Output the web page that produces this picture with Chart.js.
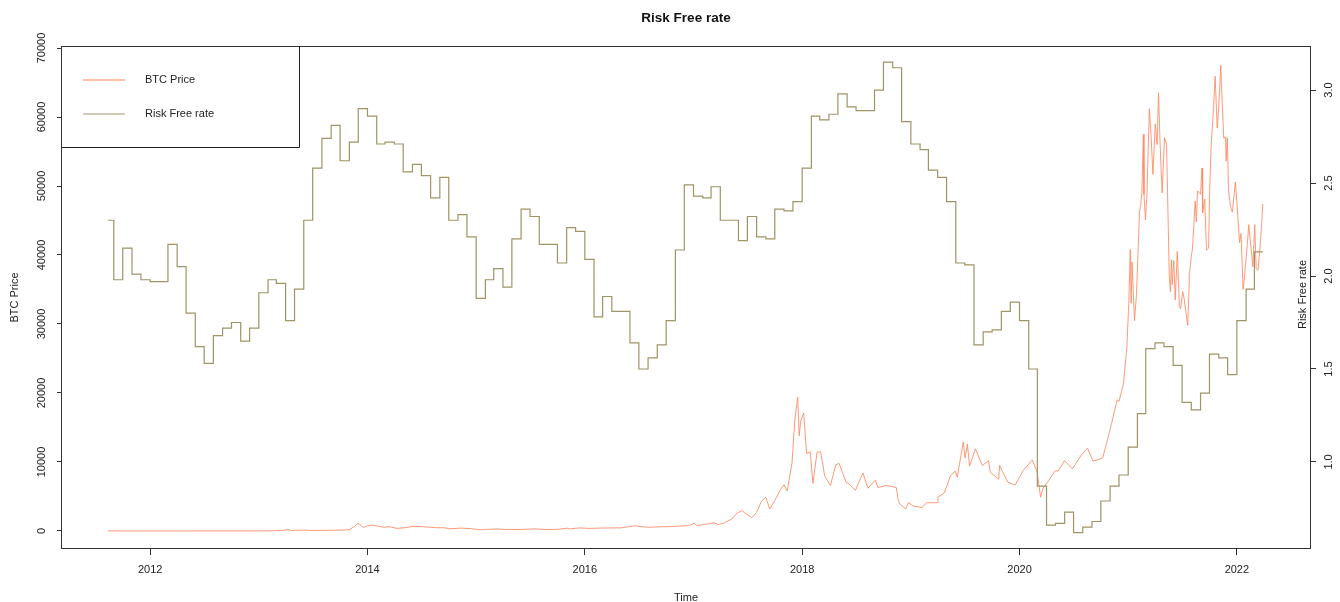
<!DOCTYPE html>
<html><head><meta charset="utf-8">
<script src="https://cdn.jsdelivr.net/npm/chart.js@4.4.1/dist/chart.umd.min.js"></script>
<style>html,body{margin:0;padding:0;background:#fff;}#wrap{width:1340px;height:602px;}</style>
</head><body><div id="wrap"><canvas id="c" width="1340" height="602"></canvas></div>
<script>
// ---- data ----
const btcDates = [
'2011-08-13','2011-10-15','2012-01-15','2012-04-15','2012-07-15','2012-09-15','2012-12-15','2013-02-15','2013-03-25','2013-04-09',
'2013-04-17','2013-06-01','2013-07-05','2013-08-15','2013-10-01','2013-11-01','2013-11-18','2013-11-30','2013-12-06','2013-12-18',
'2013-12-31','2014-01-15','2014-02-07','2014-02-25','2014-03-15','2014-04-10','2014-05-01','2014-06-03','2014-07-01','2014-08-18',
'2014-09-15','2014-10-05','2014-11-12','2014-12-15','2015-01-14','2015-02-01','2015-03-11','2015-04-15','2015-06-01','2015-07-12',
'2015-08-24','2015-10-01','2015-11-04','2015-11-11','2015-12-15','2016-01-15','2016-03-01','2016-05-01','2016-06-17','2016-08-02',
'2016-09-15','2016-10-15','2016-11-15','2016-12-15','2017-01-04','2017-01-12','2017-02-15','2017-03-10','2017-03-25','2017-04-15',
'2017-05-10','2017-05-25','2017-06-12','2017-07-16','2017-08-01','2017-08-17','2017-09-01','2017-09-14','2017-10-01','2017-10-20',
'2017-11-01','2017-11-12','2017-11-28','2017-12-07','2017-12-17','2017-12-22','2017-12-27','2018-01-06','2018-01-16','2018-01-28',
'2018-02-06','2018-02-20','2018-03-04','2018-03-18','2018-04-06','2018-04-24','2018-05-05','2018-05-28','2018-06-10','2018-06-29',
'2018-07-24','2018-08-10','2018-09-04','2018-09-12','2018-10-10','2018-11-13','2018-11-20','2018-11-25','2018-12-15','2018-12-24',
'2019-01-10','2019-02-07','2019-02-24','2019-03-30','2019-04-02','2019-04-23','2019-05-14','2019-05-30','2019-06-06','2019-06-26',
'2019-07-02','2019-07-10','2019-07-17','2019-08-06','2019-08-29','2019-09-19','2019-09-25','2019-10-23','2019-10-26','2019-11-22',
'2019-12-17','2020-01-14','2020-02-13','2020-02-29','2020-03-12','2020-03-20','2020-04-08','2020-04-30','2020-05-10','2020-06-01',
'2020-06-27','2020-07-27','2020-08-17','2020-09-05','2020-10-07','2020-10-21','2020-11-06','2020-11-25','2020-12-01','2020-12-16',
'2020-12-27','2021-01-03','2021-01-08','2021-01-11','2021-01-14','2021-01-22','2021-01-29','2021-02-08','2021-02-12','2021-02-16',
'2021-02-21','2021-02-23','2021-02-28','2021-03-05','2021-03-13','2021-03-18','2021-03-25','2021-04-02','2021-04-08','2021-04-13',
'2021-04-18','2021-04-25','2021-05-03','2021-05-10','2021-05-13','2021-05-19','2021-05-23','2021-05-26','2021-05-29','2021-06-03',
'2021-06-08','2021-06-15','2021-06-22','2021-06-26','2021-07-03','2021-07-07','2021-07-20','2021-07-26','2021-08-01','2021-08-05',
'2021-08-14','2021-08-18','2021-08-22','2021-09-01','2021-09-06','2021-09-08','2021-09-15','2021-09-21','2021-09-28','2021-10-01',
'2021-10-06','2021-10-15','2021-10-20','2021-10-27','2021-11-01','2021-11-08','2021-11-10','2021-11-18','2021-11-24','2021-11-26',
'2021-11-30','2021-12-04','2021-12-10','2021-12-13','2021-12-17','2021-12-27','2022-01-01','2022-01-10','2022-01-15','2022-01-22',
'2022-01-27','2022-02-05','2022-02-10','2022-02-14','2022-02-24','2022-03-02','2022-03-07','2022-03-13','2022-03-20','2022-03-25',
'2022-03-29'
];
const btcPrices = [
11,4,6,5,8,12,13,27,90,230,
85,125,75,100,125,200,650,1130,950,520,
750,860,700,540,630,380,450,670,640,480,
470,320,420,340,180,230,295,220,225,310,
210,240,400,310,450,380,430,450,750,540,
610,640,710,780,1130,780,1000,1200,930,1180,
1750,2500,2950,1900,2700,4300,4900,3200,4400,6000,
6700,5800,9900,16000,19400,13800,15900,17100,11200,11500,
6900,11400,11500,7900,6600,9600,9800,7100,6700,5900,
8400,6200,7400,6300,6600,6300,4400,3900,3200,4100,
3600,3400,4100,4100,4900,5500,8000,8700,7800,12900,
10600,12600,9400,11900,9500,10200,8500,7500,9500,7100,
6650,8800,10300,8600,4900,6200,7300,8700,8700,10200,
9000,11000,12000,10100,10600,12800,15600,19000,18800,21300,
26300,33000,40800,33000,39000,30500,34300,46300,47200,49000,
57500,48800,45100,48700,61200,58000,51700,59000,56000,63500,
56200,49000,57000,56000,49500,37000,34700,39300,35700,39200,
33500,40500,32500,32200,34700,33900,29800,37300,39800,40900,
47800,44800,49300,48800,52600,46100,48100,40700,41000,48100,
55300,61600,65900,58400,61300,67500,64900,56900,57100,53600,
57000,49300,47200,46700,46200,50600,47700,41800,43100,35000,
37000,41500,44400,42500,38300,44400,38000,37800,41200,44300,
47400
];
// Risk free rate, one value per month, from Aug 2011 to Mar 2022
const rateFirstMonth = [2011, 8];
const rateValues = [
2.30,1.98,2.15,2.01,1.98,
1.97,1.97,2.17,2.05,1.80,1.62,1.53,1.68,1.72,1.75,1.65,1.72,
1.91,1.98,1.96,1.76,1.93,2.30,2.58,2.74,2.81,2.62,2.72,2.90,
2.86,2.71,2.72,2.71,2.56,2.60,2.54,2.42,2.53,2.30,2.33,2.21,
1.88,1.98,2.04,1.94,2.20,2.36,2.32,2.17,2.17,2.07,2.26,2.24,
2.09,1.78,1.89,1.81,1.81,1.64,1.50,1.56,1.63,1.76,2.14,2.49,
2.43,2.42,2.48,2.30,2.30,2.19,2.32,2.21,2.20,2.36,2.35,2.40,
2.58,2.86,2.84,2.87,2.98,2.91,2.89,2.89,3.00,3.15,3.12,2.83,
2.71,2.68,2.57,2.53,2.40,2.07,2.06,1.63,1.70,1.71,1.81,1.86,
1.76,1.50,0.87,0.66,0.67,0.73,0.62,0.65,0.68,0.79,0.87,0.93,
1.08,1.26,1.61,1.64,1.62,1.52,1.32,1.28,1.37,1.58,1.56,1.47,
1.76,1.93,2.13
];
const seriesStart = '2011-08-13';
const seriesEnd = '2022-03-29';
const xTickValues = [2012, 2014, 2016, 2018, 2020, 2022];
const leftTickValues = [0, 10000, 20000, 30000, 40000, 50000, 60000, 70000];
const rightTickValues = [1.0, 1.5, 2.0, 2.5, 3.0];
const legendLabels = ['BTC Price', 'Risk Free rate'];

// ---- helpers ----
function decYear(s){
  const [y,m,d] = s.split('-').map(Number);
  const t = Date.UTC(y,m-1,d), a = Date.UTC(y,0,1), b = Date.UTC(y+1,0,1);
  return y + (t-a)/(b-a);
}
const btcPoints = btcDates.map((d,i)=>({x:decYear(d), y:btcPrices[i]}));
const ratePoints = [];
rateValues.forEach((v,i)=>{
  const mIdx = rateFirstMonth[1]-1 + i;
  const yy = rateFirstMonth[0] + Math.floor(mIdx/12);
  const mm = (mIdx % 12) + 1;
  const ds = i===0 ? seriesStart : `${yy}-${String(mm).padStart(2,'0')}-01`;
  ratePoints.push({x:decYear(ds), y:v});
});
ratePoints.push({x:decYear(seriesEnd), y:rateValues[rateValues.length-1]});

const FONT = "'Liberation Sans', Arial, Helvetica, sans-serif";
const TXT = '#222';
const BTC_COLOR = 'rgba(255,135,95,0.85)';
const RATE_COLOR = 'rgb(158,148,102)';

const decor = {
  id:'decor',
  afterDraw(chart){
    const {ctx, chartArea:a} = chart;
    ctx.save();
    // plot box
    ctx.strokeStyle = '#333'; ctx.lineWidth = 1;
    ctx.strokeRect(Math.round(a.left)-0.5, Math.round(a.top)+0.5, Math.round(a.right-a.left)+1, Math.round(a.bottom-a.top)-1);
    // title
    ctx.fillStyle = '#111';
    ctx.font = `bold 13.5px ${FONT}`;
    ctx.textAlign = 'center'; ctx.textBaseline = 'middle';
    ctx.fillText('Risk Free rate', (a.left+a.right)/2, 18);
    // x title
    ctx.fillStyle = TXT;
    ctx.font = `11px ${FONT}`;
    ctx.fillText('Time', (a.left+a.right)/2, 598);
    // left title
    ctx.save();
    ctx.translate(15, (a.top+a.bottom)/2);
    ctx.rotate(-Math.PI/2);
    ctx.fillText('BTC Price', 0, 0);
    ctx.restore();
    // right title (inside plot)
    ctx.save();
    ctx.translate(a.right-7, (a.top+a.bottom)/2 - 3);
    ctx.rotate(-Math.PI/2);
    ctx.fillText('Risk Free rate', 0, 0);
    ctx.restore();
    // legend box
    const lx0 = Math.round(a.left), ly0 = Math.round(a.top), lx1 = 299, ly1 = 147;
    ctx.strokeStyle = '#222';
    ctx.beginPath();
    ctx.moveTo(lx1+0.5, ly0); ctx.lineTo(lx1+0.5, ly1+0.5); ctx.lineTo(lx0, ly1+0.5);
    ctx.stroke();
    const items = [[legendLabels[0], 'rgba(255,140,100,0.55)', 80],[legendLabels[1], 'rgba(150,140,95,0.45)', 114]];
    items.forEach(([lab,col,y])=>{
      ctx.strokeStyle = col; ctx.lineWidth = 2;
      ctx.beginPath(); ctx.moveTo(83, y); ctx.lineTo(125, y); ctx.stroke();
      ctx.fillStyle = TXT; ctx.textAlign = 'left'; ctx.textBaseline = 'middle';
      ctx.font = `11px ${FONT}`;
      ctx.fillText(lab, 145, y);
    });
    ctx.restore();
  }
};

new Chart(document.getElementById('c'), {
  type:'line',
  data:{ datasets:[
    { label:legendLabels[1], data:ratePoints, yAxisID:'y2', borderColor:RATE_COLOR, borderWidth:1.2,
      stepped:'before', pointRadius:0, fill:false, order:0 },
    { label:legendLabels[0], data:btcPoints, yAxisID:'y', borderColor:BTC_COLOR, borderWidth:1,
      pointRadius:0, tension:0, fill:false, order:1 }
  ]},
  options:{
    responsive:false, animation:false, devicePixelRatio:1,
    layout:{ padding:{top:46, left:0, right:0, bottom:0} },
    plugins:{ legend:{display:false}, tooltip:{enabled:false}, title:{display:false} },
    scales:{
      x:{ type:'linear', position:'bottom', min:2011.189, max:2022.673,
        afterBuildTicks:s=>{ s.ticks = xTickValues.map(v=>({value:v})); },
        afterFit:s=>{ s.height = 53; },
        ticks:{ callback:v=>String(v), font:{family:FONT, size:11}, color:TXT, padding:8, maxRotation:0, autoSkip:false },
        grid:{ drawOnChartArea:false, tickLength:6, color:'#333' }, border:{display:false} },
      y:{ type:'linear', position:'left', min:-2609, max:70290,
        afterBuildTicks:s=>{ s.ticks = leftTickValues.map(v=>({value:v})); },
        afterFit:s=>{ s.width = 62; },
        ticks:{ callback:v=>String(v), font:{family:FONT, size:11}, color:TXT, padding:0, minRotation:90, maxRotation:90, crossAlign:'center', autoSkip:false },
        grid:{ drawOnChartArea:false, tickLength:5, color:'#333' }, border:{display:false} },
      y2:{ type:'linear', position:'right', min:0.532, max:3.237,
        afterBuildTicks:s=>{ s.ticks = rightTickValues.map(v=>({value:v})); },
        afterFit:s=>{ s.width = 30; },
        ticks:{ callback:v=>Number(v).toFixed(1), font:{family:FONT, size:11}, color:TXT, padding:5, minRotation:90, maxRotation:90, crossAlign:'center', autoSkip:false },
        grid:{ drawOnChartArea:false, tickLength:6, color:'#333' }, border:{display:false} }
    }
  },
  plugins:[decor]
});
</script></body></html>
